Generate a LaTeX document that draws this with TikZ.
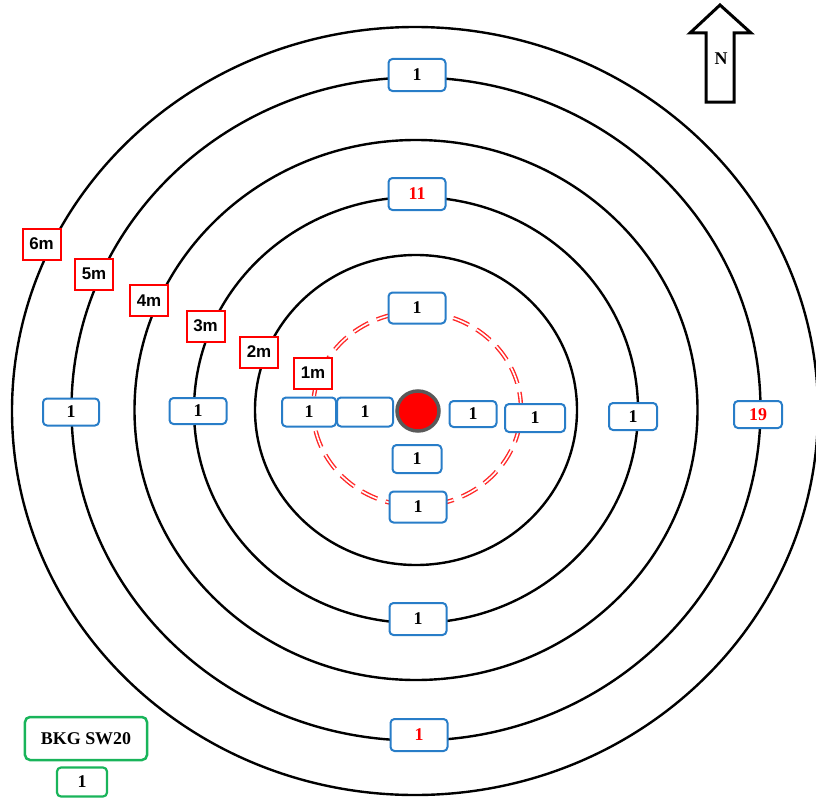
\documentclass[tikz,border=0pt]{standalone}
\usepackage{fontspec}
\usetikzlibrary{shapes.geometric}
\setmainfont{Liberation Serif}
\newfontfamily\labelfont{Liberation Sans}
\definecolor{boxblue}{RGB}{40,125,200}
\definecolor{boxgreen}{RGB}{25,180,90}
\definecolor{ringred}{RGB}{255,40,40}
\tikzset{
  ring/.style={draw=black, line width=2.4bp},
  countbox/.style={draw=boxblue, fill=white, line width=2bp, rounded corners=4bp,
    inner sep=0pt, minimum width=57bp, minimum height=31bp,
    font=\fontsize{18}{20}\selectfont\bfseries},
  distbox/.style={draw=red, fill=white, line width=2bp, inner sep=0pt,
    minimum width=38bp, minimum height=31bp,
    font=\labelfont\fontsize{17}{19}\selectfont\bfseries},
  bgbox/.style={draw=boxgreen, fill=white, line width=2.5bp, rounded corners=5bp,
    inner sep=0pt, font=\fontsize{18}{20}\selectfont\bfseries},
}
\begin{document}
\begin{tikzpicture}[x=1bp, y=-1bp]
\useasboundingbox (0,0) rectangle (816,798);

% concentric rings, 2 m to 6 m
\draw[ring] (416,410) ellipse [x radius=161bp, y radius=155bp];
\draw[ring] (416,410) ellipse [x radius=222bp, y radius=213bp];
\draw[ring] (416,410) ellipse [x radius=281.5bp, y radius=270bp];
\draw[ring] (416,409) ellipse [x radius=344.5bp, y radius=331.5bp];
\draw[ring] (415,411) ellipse [x radius=403bp, y radius=384bp];

% 1 m ring: red dashed double line
\draw[draw=ringred, double=white, double distance=1.6bp, line width=1.4bp,
      dash pattern=on 17bp off 9bp]
  (417,409) ellipse [x radius=104bp, y radius=97bp];

% source point
\node[draw=black!65, fill=red, line width=3.5bp, ellipse, inner sep=0pt,
      minimum width=42bp, minimum height=40bp] (src) at (418,411) {};

% counts on the rings
\node[countbox, minimum height=32bp] (n1) at (417,75) {1};
\node[countbox, minimum height=32bp, text=red] (n11) at (417,194) {11};
\node[countbox] (ntop) at (417,308) {1};
\node[countbox] (nbot) at (418,507) {1};
\node[countbox, minimum height=32bp] (s3) at (418,619) {1};
\node[countbox, minimum height=32bp, text=red] (s5) at (419,735) {1};
\node[countbox, minimum width=56bp, minimum height=27bp] (w5) at (71,412) {1};
\node[countbox, minimum width=57bp, minimum height=26bp] (w3) at (198,411) {1};
\node[countbox, minimum width=54bp, minimum height=29bp] (w1a) at (309,412) {1};
\node[countbox, minimum width=56bp, minimum height=29bp] (w1b) at (365,412) {1};
\node[countbox, minimum width=47bp, minimum height=26bp] (e0) at (473,414) {1};
\node[countbox, minimum width=60bp, minimum height=28bp] (e1) at (535,418) {1};
\node[countbox, minimum width=49bp, minimum height=28bp] (s0) at (417,459) {1};
\node[countbox, minimum width=48bp, minimum height=27bp] (e3) at (633,416.5) {1};
\node[countbox, minimum width=48bp, minimum height=27bp, text=red] (e5) at (758,414.5) {19};

% distance labels
\node[distbox] (d6) at (41.5,244) {6m};
\node[distbox] (d5) at (94,274) {5m};
\node[distbox] (d4) at (149,300.5) {4m};
\node[distbox] (d3) at (205.5,326) {3m};
\node[distbox] (d2) at (259,352) {2m};
\node[distbox] (d1) at (313,373) {1m};

% north arrow
\draw[line width=3bp, line join=miter, fill=white]
  (720,5) -- (690,33) -- (706,33) -- (706,102) -- (734,102) -- (734,33) -- (751,33) -- cycle;
\node[font=\fontsize{18}{20}\selectfont\bfseries] (north) at (721,59) {N};

% background sample
\node[bgbox, minimum width=122bp, minimum height=43bp] (bkg) at (86,738.5) {BKG SW20};
\node[bgbox, line width=2.2bp, rounded corners=4bp, minimum width=50bp, minimum height=29bp] (bkgn) at (82,782) {1};
\end{tikzpicture}
\end{document}
